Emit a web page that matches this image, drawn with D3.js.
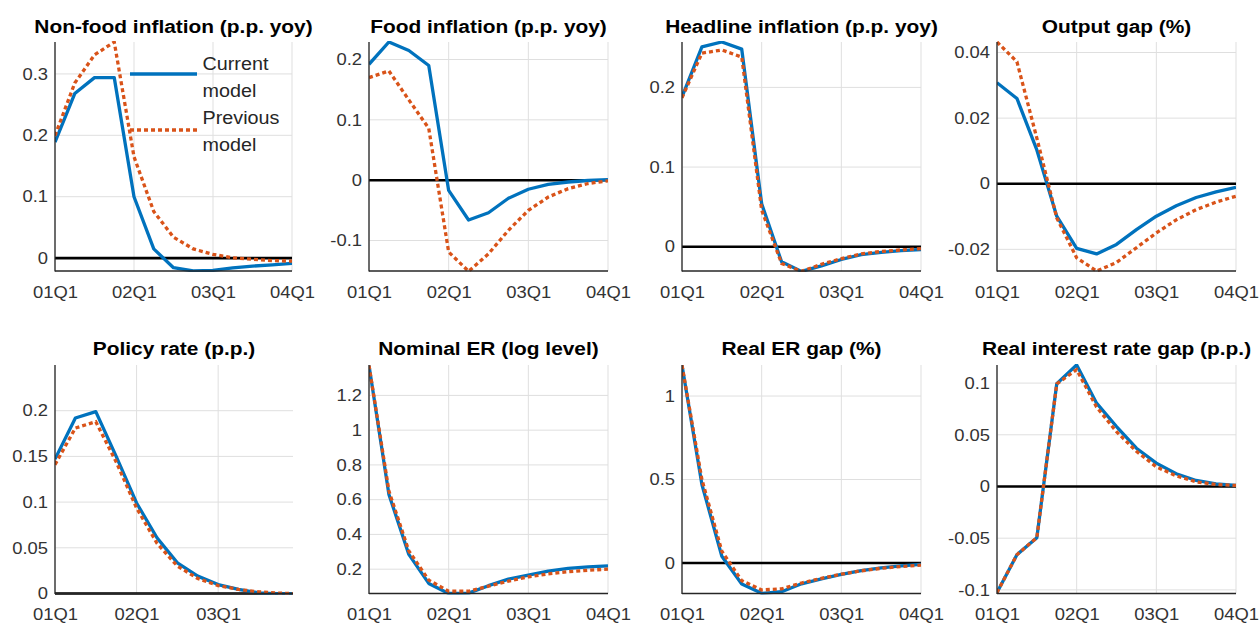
<!DOCTYPE html>
<html><head><meta charset="utf-8">
<script src="https://cdn.jsdelivr.net/npm/d3@7/dist/d3.min.js"></script>
<style>
body{margin:0;background:#fff;}
svg{display:block;}
text{font-family:"Liberation Sans",Arial,Helvetica,sans-serif;}
</style>
</head><body>
<svg id="chart" width="1259" height="623"></svg>
<script>
// ---------- data ----------
const titles = [
  "Non-food inflation (p.p. yoy)", "Food inflation (p.p. yoy)", "Headline inflation (p.p. yoy)", "Output gap (%)",
  "Policy rate (p.p.)", "Nominal ER (log level)", "Real ER gap (%)", "Real interest rate gap (p.p.)"
];
const seriesNames = ["Current model", "Previous model"];
const xTickLabels = ["01Q1", "02Q1", "03Q1", "04Q1"];
const xTickIndex = [0, 4, 8, 12];

const nonfoodCurrent  = [0.189, 0.268, 0.294, 0.294, 0.100, 0.015, -0.0156, -0.021, -0.020, -0.016, -0.013, -0.011, -0.0086];
const nonfoodPrevious = [0.1995, 0.285, 0.331, 0.352, 0.165, 0.076, 0.034, 0.015, 0.006, 0.0005, -0.002, -0.004, -0.005];
const foodCurrent     = [0.192, 0.229, 0.215, 0.190, -0.017, -0.066, -0.054, -0.030, -0.015, -0.007, -0.003, -0.0005, 0.001];
const foodPrevious    = [0.170, 0.181, 0.133, 0.086, -0.119, -0.151, -0.122, -0.083, -0.050, -0.028, -0.014, -0.0055, -0.001];
const headlineCurrent = [0.188, 0.251, 0.257, 0.248, 0.054, -0.019, -0.031, -0.024, -0.016, -0.010, -0.007, -0.005, -0.0035];
const headlinePrevious= [0.187, 0.243, 0.247, 0.238, 0.046, -0.021, -0.031, -0.022, -0.015, -0.009, -0.006, -0.004, -0.0025];
const gapCurrent      = [0.0308, 0.026, 0.0103, -0.0099, -0.0197, -0.0214, -0.0185, -0.014, -0.0099, -0.0067, -0.0042, -0.0025, -0.0011];
const gapPrevious     = [0.0432, 0.0372, 0.0139, -0.0104, -0.0226, -0.0266, -0.024, -0.0195, -0.015, -0.011, -0.0079, -0.0056, -0.0038];
const policyCurrent   = [0.147, 0.192, 0.199, 0.150, 0.099, 0.061, 0.0335, 0.019, 0.0098, 0.0044, 0.0007, -0.0003, -0.0005];
const policyPrevious  = [0.141, 0.181, 0.188, 0.144, 0.0935, 0.055, 0.030, 0.0164, 0.0087, 0.0044, 0.0018, 0.0004, -0.0003];
const nerCurrent      = [1.372, 0.63, 0.285, 0.118, 0.06, 0.062, 0.105, 0.143, 0.166, 0.189, 0.204, 0.213, 0.219];
const nerPrevious     = [1.372, 0.65, 0.305, 0.137, 0.073, 0.073, 0.102, 0.131, 0.156, 0.173, 0.185, 0.194, 0.200];
const rerCurrent      = [1.184, 0.47, 0.04, -0.126, -0.182, -0.172, -0.125, -0.095, -0.068, -0.046, -0.029, -0.017, -0.009];
const rerPrevious     = [1.184, 0.50, 0.07, -0.106, -0.162, -0.155, -0.120, -0.092, -0.067, -0.047, -0.032, -0.021, -0.013];
const rirCurrent      = [-0.1026, -0.066, -0.0495, 0.0993, 0.1176, 0.0806, 0.058, 0.037, 0.0226, 0.0123, 0.0058, 0.0026, 0.001];
const rirPrevious     = [-0.1026, -0.066, -0.0495, 0.0993, 0.113, 0.0768, 0.053, 0.034, 0.019, 0.0103, 0.0045, 0.0019, 0.001];

const currentSeries  = [nonfoodCurrent, foodCurrent, headlineCurrent, gapCurrent, policyCurrent, nerCurrent, rerCurrent, rirCurrent];
const previousSeries = [nonfoodPrevious, foodPrevious, headlinePrevious, gapPrevious, policyPrevious, nerPrevious, rerPrevious, rirPrevious];

const yDomains = [[-0.021, 0.352], [-0.1505, 0.229], [-0.0305, 0.257], [-0.0266, 0.0432],
                  [0, 0.25], [0.06, 1.375], [-0.183, 1.186], [-0.1035, 0.1175]];
const yTicks = [[0, 0.1, 0.2, 0.3], [-0.1, 0, 0.1, 0.2], [0, 0.1, 0.2], [-0.02, 0, 0.02, 0.04],
                [0, 0.05, 0.1, 0.15, 0.2], [0.2, 0.4, 0.6, 0.8, 1, 1.2], [0, 0.5, 1], [-0.1, -0.05, 0, 0.05, 0.1]];
const xMax = [12, 12, 12, 12, 11.67, 12, 12, 12];

// ---------- layout ----------
const colLeft  = [55, 369, 682, 997];
const colRight = [292, 608, 921, 1236];
const rowTop = [42, 365];
const rowBottom = [271, 593.5];
const titleBaseline = [32.5, 354.5];
const xLabelPad = [15, 14.5];
const stretch = 1.13;
const blue = "#0072BD", orange = "#D95319";

const svg = d3.select("#chart");

function stretchedText(sel, x, y, anchor) {
  return sel.append("text").attr("x", 0).attr("y", 0)
    .attr("transform", `translate(${x},${y}) scale(${stretch},1)`)
    .attr("text-anchor", anchor);
}

titles.forEach((title, i) => {
  const r = Math.floor(i / 4), c = i % 4;
  const L = colLeft[c], R = (i === 4 ? 293 : colRight[c]), T = rowTop[r], B = rowBottom[r];
  const x = d3.scaleLinear().domain([0, xMax[i]]).range([L, R]);
  const y = d3.scaleLinear().domain(yDomains[i]).range([B, T]);
  const g = svg.append("g");
  const xt = xTickIndex.filter(d => d <= xMax[i]);

  // grid
  g.append("g").selectAll("line").data(yTicks[i]).join("line")
    .attr("x1", L).attr("x2", R).attr("y1", d => y(d)).attr("y2", d => y(d))
    .attr("stroke", "#dfdfdf").attr("stroke-width", 1);
  g.append("g").selectAll("line").data(xt).join("line")
    .attr("x1", d => x(d)).attr("x2", d => x(d)).attr("y1", T).attr("y2", B)
    .attr("stroke", "#dfdfdf").attr("stroke-width", 1);

  // zero line
  const yd = yDomains[i];
  if (0 >= yd[0] && 0 <= yd[1]) {
    g.append("line").attr("x1", L).attr("x2", R).attr("y1", y(0)).attr("y2", y(0))
      .attr("stroke", "#000").attr("stroke-width", 2.6);
  }

  // clip
  const cid = "clip" + i;
  svg.append("clipPath").attr("id", cid).append("rect")
    .attr("x", L).attr("y", T - 1).attr("width", R - L).attr("height", B - T + 2);

  const line = d3.line().x((d, k) => x(k)).y(d => y(d));
  const lines = g.append("g").attr("clip-path", `url(#${cid})`);
  lines.append("path").datum(currentSeries[i]).attr("d", line)
    .attr("fill", "none").attr("stroke", blue).attr("stroke-width", 3.3).attr("stroke-linejoin", "round");
  lines.append("path").datum(previousSeries[i]).attr("d", line)
    .attr("fill", "none").attr("stroke", orange).attr("stroke-width", 3.3).attr("stroke-dasharray", "4,3");

  // axes (d3 axes, tick labels horizontally stretched like the reference)
  const ya = g.append("g").attr("transform", `translate(${L},0)`)
    .call(d3.axisLeft(y).tickValues(yTicks[i]).tickSize(0).tickPadding(7).tickFormat(d => String(d)));
  const xa = g.append("g").attr("transform", `translate(0,${B})`)
    .call(d3.axisBottom(x).tickValues(xt).tickSize(0).tickPadding(xLabelPad[r])
      .tickFormat(d => xTickLabels[xTickIndex.indexOf(d)]));
  [ya, xa].forEach(a => {
    a.select(".domain").remove();
    a.selectAll("text").attr("font-size", "16.3px").attr("fill", "#333")
      .attr("font-family", "'Liberation Sans', Arial, sans-serif");
  });
  ya.selectAll("text").each(function() {
    const t = d3.select(this); const tx = +t.attr("x");
    t.attr("x", 0).attr("transform", `translate(${tx},0) scale(${stretch},1)`);
  });
  xa.selectAll("text").attr("transform", `scale(${stretch},1)`);

  g.append("line").attr("x1", L).attr("x2", L).attr("y1", T).attr("y2", B + 0.6)
    .attr("stroke", "#262626").attr("stroke-width", 1.3);
  g.append("line").attr("x1", L).attr("x2", R).attr("y1", B).attr("y2", B)
    .attr("stroke", "#262626").attr("stroke-width", 1.3);

  // title
  stretchedText(g, (L + R) / 2, titleBaseline[r], "middle")
    .attr("font-weight", "bold").attr("font-size", "18.5px").attr("fill", "#000").text(title);

  // legend in first panel
  if (i === 0) {
    const lg = g.append("g");
    const entries = [
      {color: blue, dash: null, ly: 74, words: seriesNames[0].split(" "), base: 70},
      {color: orange, dash: "4,3", ly: 130, words: seriesNames[1].split(" "), base: 124}
    ];
    entries.forEach(e => {
      lg.append("line").attr("x1", 130).attr("x2", 197).attr("y1", e.ly).attr("y2", e.ly)
        .attr("stroke", e.color).attr("stroke-width", 3.3)
        .attr("stroke-dasharray", e.dash);
      e.words.forEach((w, k) => {
        stretchedText(lg, 202.5, e.base + k * 26.6, "start")
          .attr("font-size", "17.5px").attr("fill", "#262626").text(w);
      });
    });
  }
});
</script>
</body></html>
